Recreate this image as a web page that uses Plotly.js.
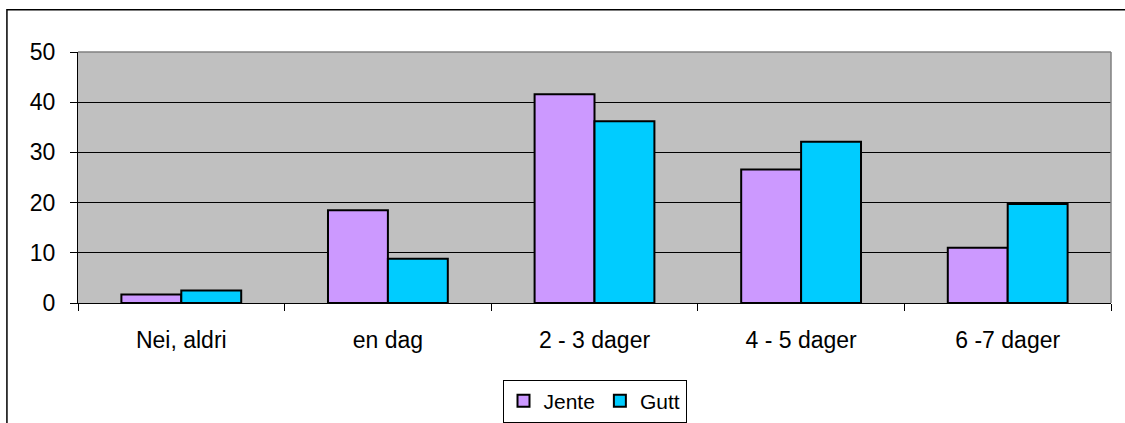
<!DOCTYPE html>
<html>
<head>
<meta charset="utf-8">
<script src="https://cdn.plot.ly/plotly-3.0.1.min.js"></script>
<style>html,body{margin:0;padding:0;background:#fff;}#chart{width:1125px;height:423px;}</style>
</head>
<body>
<div id="chart"></div>
<script>
const categories = ["Nei, aldri", "en dag", "2 - 3 dager", "4 - 5 dager", "6 -7 dager"];
const jente = [1.7, 18.5, 41.6, 26.6, 11.0];
const gutt = [2.5, 8.8, 36.2, 32.1, 19.7];
const yTicks = [0, 10, 20, 30, 40, 50];

const font = {family: "Liberation Sans, Arial, sans-serif", size: 23, color: "#000"};
const legendFont = {family: "Liberation Sans, Arial, sans-serif", size: 21, color: "#000"};

const traces = [
  {type: "bar", name: "Jente", x: categories, y: jente,
   marker: {color: "#CC99FF", line: {color: "#000", width: 2}}},
  {type: "bar", name: "Gutt", x: categories, y: gutt,
   marker: {color: "#00CCFF", line: {color: "#000", width: 2}}}
];

const layout = {
  width: 1125, height: 423,
  margin: {l: 78, r: 14, t: 52, b: 120, pad: 0, autoexpand: false},
  paper_bgcolor: "#fff",
  plot_bgcolor: "#C0C0C0",
  font: font,
  barmode: "group",
  bargap: 0.42,
  bargroupgap: 0,
  showlegend: true,
  legend: {orientation: "h", x: 0.5, xanchor: "center", y: -0.305, yanchor: "top",
           bordercolor: "#000", borderwidth: 1, bgcolor: "#fff", font: legendFont,
           itemwidth: 30, tracegroupgap: 0},
  xaxis: {type: "category", tickson: "boundaries", ticks: "outside", ticklen: 7,
          tickcolor: "#000", tickwidth: 1, showline: true, linecolor: "#000", linewidth: 1,
          showgrid: false, zeroline: false, ticklabelstandoff: 16, tickfont: font,
          automargin: false, fixedrange: true},
  yaxis: {range: [0, 50], tickvals: yTicks, ticktext: yTicks.map(String),
          ticks: "outside", ticklen: 7, tickcolor: "#000", tickwidth: 1,
          showline: true, linecolor: "#000", linewidth: 1,
          showgrid: true, gridcolor: "#000", gridwidth: 1, zeroline: false,
          ticklabelstandoff: 10, tickfont: font, automargin: false, fixedrange: true},
  shapes: [
    {type: "line", xref: "paper", yref: "paper", x0: 0, x1: 1, y0: 1, y1: 1,
     line: {color: "#808080", width: 1.5}},
    {type: "line", xref: "paper", yref: "paper", x0: 1, x1: 1, y0: 0, y1: 1,
     line: {color: "#808080", width: 1.5}},
    {type: "rect", xref: "paper", yref: "paper", x0: -0.0688, x1: 1.03, y0: -0.6, y1: 1.168,
     line: {color: "#000", width: 1.5}, fillcolor: "rgba(0,0,0,0)", layer: "above"}
  ]
};

Plotly.newPlot("chart", traces, layout, {displayModeBar: false, staticPlot: true});
</script>
</body>
</html>
